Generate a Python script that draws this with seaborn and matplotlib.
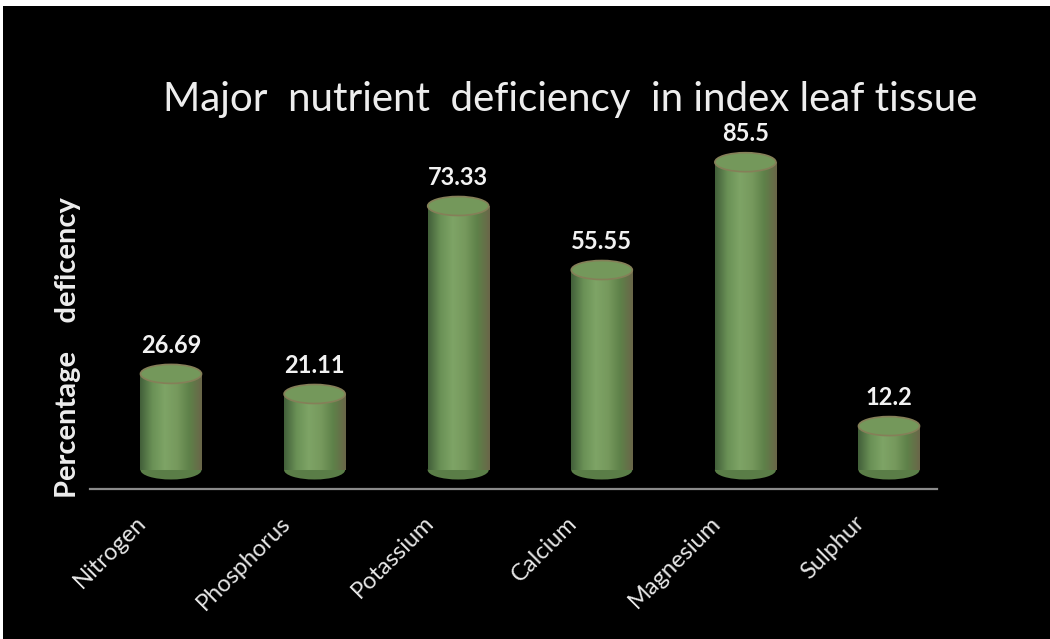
import matplotlib
matplotlib.use("Agg")
import matplotlib.pyplot as plt
import matplotlib.transforms as mtrans
import seaborn as sns
import numpy as np
import pandas as pd
from matplotlib.patches import Ellipse, Rectangle
from matplotlib.colors import LinearSegmentedColormap

categories = ["Nitrogen", "Phosphorus", "Potassium", "Calcium", "Magnesium", "Sulphur"]
values = [26.69, 21.11, 73.33, 55.55, 85.5, 12.2]
value_labels = ["26.69", "21.11", "73.33", "55.55", "85.5", "12.2"]
title = "Major  nutrient  deficiency  in index leaf tissue"
ylabel = "Percentage    deficency"

sns.set_theme(style="dark")
plt.rcParams['font.family'] = ['Lato', 'DejaVu Sans']

W, H = 1050, 639
fig = plt.figure(figsize=(W / 100, H / 100), dpi=100)
fig.patch.set_facecolor("black")
# thin white border at top and left
fig.patches.append(Rectangle((0, 1 - 6 / H), 1, 6 / H, transform=fig.transFigure,
                             facecolor="white", edgecolor="none", zorder=-10))
fig.patches.append(Rectangle((0, 0), 3 / W, 1, transform=fig.transFigure,
                             facecolor="white", edgecolor="none", zorder=-10))

ax_left, ax_right, ax_bottom, ax_top = 90, 937, 489, 120
ax = fig.add_axes([ax_left / W, (H - ax_bottom) / H, (ax_right - ax_left) / W, (ax_bottom - ax_top) / H])
ax.set_facecolor("none")

df = pd.DataFrame({"cat": categories, "val": values})
bw = 0.425
sns.barplot(data=df, x="cat", y="val", color="#6e9858", width=bw, ax=ax, zorder=2,
            saturation=1)

px_per_unit = 3.6
zero_px = 470
ylim = (-(ax_bottom - zero_px) / px_per_unit, (zero_px - ax_top) / px_per_unit)
xlim = ((ax_left - 171) / 143.6, (ax_right - 171) / 143.6)

ell_h = 19 / px_per_unit
cmap = LinearSegmentedColormap.from_list(
    "cyl", ["#42603a", "#6a9156", "#7ea466", "#76995d", "#5e8149", "#6a6648"])
grad = np.linspace(0, 1, 128).reshape(1, -1)

for p, v, lab in zip(list(ax.patches), values, value_labels):
    x0 = p.get_x()
    w = p.get_width()
    cx = x0 + w / 2
    p.set_visible(False)
    ax.add_patch(Ellipse((cx, 0), w, ell_h, facecolor="#5a7d47", edgecolor="none", zorder=2))
    ax.imshow(grad, cmap=cmap, extent=[x0, x0 + w, 0, v], aspect="auto", zorder=3,
              interpolation="bilinear")
    ax.add_patch(Ellipse((cx, v), w, ell_h, facecolor="#74985b", edgecolor="#857f58",
                         linewidth=1.2, zorder=4))
    ax.text(cx, v + ell_h / 2 + 2.0, lab, ha="center", va="bottom", color="#f2f2f2",
            fontsize=17, fontweight="bold", zorder=5)

ax.set_aspect("auto")
ax.set_xlim(*xlim)
ax.set_ylim(*ylim)

for s in ["top", "right", "left"]:
    ax.spines[s].set_visible(False)
ax.spines["bottom"].set_color("#8a8a8a")
ax.spines["bottom"].set_linewidth(1.6)
ax.spines["bottom"].set_visible(True)
ax.grid(False)
ax.set_yticks([])
ax.set_xlabel("")
ax.set_ylabel("")
ax.tick_params(axis="x", length=0, pad=22)
ax.set_xticks(range(len(categories)))
ax.set_xticklabels(categories, rotation=45, ha="right", va="center", rotation_mode="anchor",
                   color="#e6e6e6", fontsize=17)
shift = mtrans.ScaledTranslation(-28 / 100, 0, fig.dpi_scale_trans)
for t in ax.get_xticklabels():
    t.set_transform(t.get_transform() + shift)

fig.text(163 / W, 1 - 100 / H, title, ha="left", va="center", color="#ededed", fontsize=29)
fig.text(68 / W, 1 - 348 / H, ylabel, ha="center", va="center", rotation=90,
         color="#ededed", fontsize=21, fontweight="bold")

fig.savefig("out.png", dpi=100, facecolor=fig.get_facecolor())
